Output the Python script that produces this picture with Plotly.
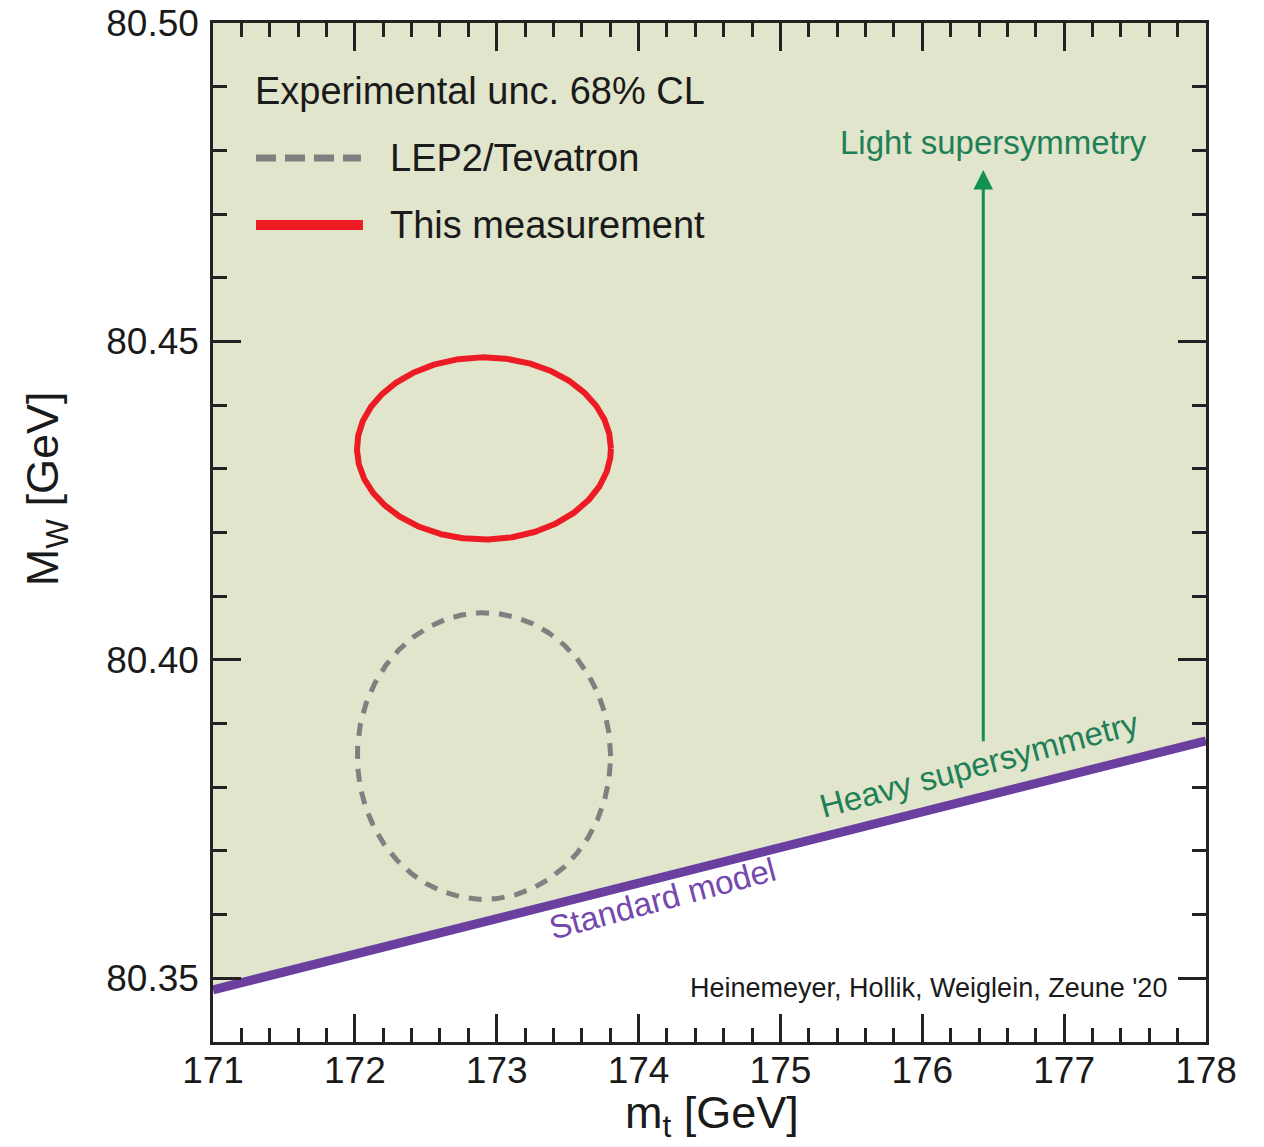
import numpy as np
import plotly.graph_objects as go

# ---- data ----
x_range = [171, 178]
y_range = [80.34, 80.50]

# Standard-model line (m_t, M_W)
sm_mt = [171.0, 178.0]
sm_mw = [80.3482, 80.3873]

# 68% CL ellipses: centre and half-widths
this_center = (172.91, 80.4332)
this_half = (0.895, 0.0143)
lep_center = (172.91, 80.3849)
lep_half = (0.893, 0.0225)

# arrow (light SUSY direction)
arrow_mt = 176.43
arrow_mw = [80.3870, 80.4769]

# text labels
legend_title = "Experimental unc. 68% CL"
legend_names = ["LEP2/Tevatron", "This measurement"]
credit = "Heinemeyer, Hollik, Weiglein, Zeune '20"
x_title = "m<sub>t</sub> [GeV]"
y_title = "M<sub>W</sub> [GeV]"

FONT = "Liberation Sans, Arial, Helvetica, sans-serif"
FILL = "#e0e5cb"
PURPLE = "#6b3fa0"
RED = "#ed1c24"
GRAY = "#808080"
GREEN = "#139150"
TEXTGREEN = "#1f8058"
INK = "#1a1a1a"


def ellipse(center, half, n=720):
    t = np.linspace(0, 2 * np.pi, n)
    return center[0] + half[0] * np.cos(t), center[1] + half[1] * np.sin(t)


fig = go.Figure()

# shaded region above SM line
fig.add_trace(go.Scatter(
    x=[sm_mt[0], sm_mt[1], sm_mt[1], sm_mt[0]],
    y=[sm_mw[0], sm_mw[1], y_range[1], y_range[1]],
    fill="toself", fillcolor=FILL, mode="none", hoverinfo="skip", showlegend=False))

# SM line
fig.add_trace(go.Scatter(x=sm_mt, y=sm_mw, mode="lines",
                         line=dict(color=PURPLE, width=9), showlegend=False))

ex, ey = ellipse(this_center, this_half)
fig.add_trace(go.Scatter(x=ex, y=ey, mode="lines",
                         line=dict(color=RED, width=6), showlegend=False))
gx, gy = ellipse(lep_center, lep_half)
fig.add_trace(go.Scatter(x=gx, y=gy, mode="lines",
                         line=dict(color=GRAY, width=5, dash="13px,10px"), showlegend=False))

annotations = []
# arrow
annotations.append(dict(x=arrow_mt, y=arrow_mw[1], ax=arrow_mt, ay=arrow_mw[0],
                        xref="x", yref="y", axref="x", ayref="y", text="",
                        showarrow=True, arrowhead=2, arrowsize=1.3, arrowwidth=3,
                        arrowcolor=GREEN))
annotations.append(dict(x=176.505, y=80.4813, xref="x", yref="y", text="Light supersymmetry",
                        showarrow=False, xanchor="center", yanchor="middle",
                        font=dict(family=FONT, size=33, color=TEXTGREEN)))
annotations.append(dict(x=176.40, y=80.3835, xref="x", yref="y", text="Heavy supersymmetry",
                        showarrow=False, textangle=-15, xanchor="center", yanchor="middle",
                        font=dict(family=FONT, size=33, color=TEXTGREEN)))
annotations.append(dict(x=174.17, y=80.3625, xref="x", yref="y", text="Standard model",
                        showarrow=False, textangle=-15, xanchor="center", yanchor="middle",
                        font=dict(family=FONT, size=33, color="#7448ad")))
annotations.append(dict(x=177.74, y=80.3485, xref="x", yref="y", text=credit,
                        showarrow=False, xanchor="right", yanchor="middle",
                        font=dict(family=FONT, size=27, color=INK)))
# legend texts
annotations.append(dict(x=0.0403, y=0.9333, xref="paper", yref="paper", text=legend_title,
                        showarrow=False, xanchor="left", yanchor="middle",
                        font=dict(family=FONT, size=38, color=INK)))
annotations.append(dict(x=0.1763, y=0.8675, xref="paper", yref="paper", text=legend_names[0],
                        showarrow=False, xanchor="left", yanchor="middle",
                        font=dict(family=FONT, size=38, color=INK)))
annotations.append(dict(x=0.1763, y=0.8018, xref="paper", yref="paper", text=legend_names[1],
                        showarrow=False, xanchor="left", yanchor="middle",
                        font=dict(family=FONT, size=38, color=INK)))
# axis titles
annotations.append(dict(x=0.503, y=-0.0725, xref="paper", yref="paper", text=x_title,
                        showarrow=False, xanchor="center", yanchor="middle",
                        font=dict(family=FONT, size=45, color=INK)))
annotations.append(dict(x=-0.168, y=0.5427, xref="paper", yref="paper", text=y_title,
                        showarrow=False, xanchor="center", yanchor="middle", textangle=-90,
                        font=dict(family=FONT, size=45, color=INK)))

shapes = [
    dict(type="line", xref="paper", yref="paper", x0=0.0433, x1=0.149, y0=0.8675, y1=0.8675,
         line=dict(color=GRAY, width=7, dash="20px,9px")),
    dict(type="line", xref="paper", yref="paper", x0=0.0433, x1=0.151, y0=0.8018, y1=0.8018,
         line=dict(color=RED, width=10)),
]

axis_common = dict(
    showline=True, linecolor="#222", linewidth=2.5, mirror="ticks",
    ticks="inside", tickwidth=2.5, tickcolor="#222", ticklen=28,
    showgrid=False, zeroline=False, layer="above traces", automargin=False,
    ticklabeloverflow="allow",
    tickfont=dict(family=FONT, size=37, color=INK),
)

fig.update_layout(
    width=1264, height=1147,
    margin=dict(l=205, r=66, t=15, b=113),
    paper_bgcolor="white", plot_bgcolor="white",
    showlegend=False,
    annotations=annotations, shapes=shapes,
    xaxis=dict(range=x_range, tick0=171, dtick=1, ticklabelstandoff=-6,
               minor=dict(dtick=0.2, ticks="inside", ticklen=14, tickwidth=2.5, tickcolor="#222"),
               **axis_common),
    yaxis=dict(range=y_range, tick0=80.35, dtick=0.05, tickformat=".2f", ticklabelstandoff=4,
               minor=dict(dtick=0.01, ticks="inside", ticklen=14, tickwidth=2.5, tickcolor="#222"),
               **axis_common),
)

fig.write_html("out.html")
